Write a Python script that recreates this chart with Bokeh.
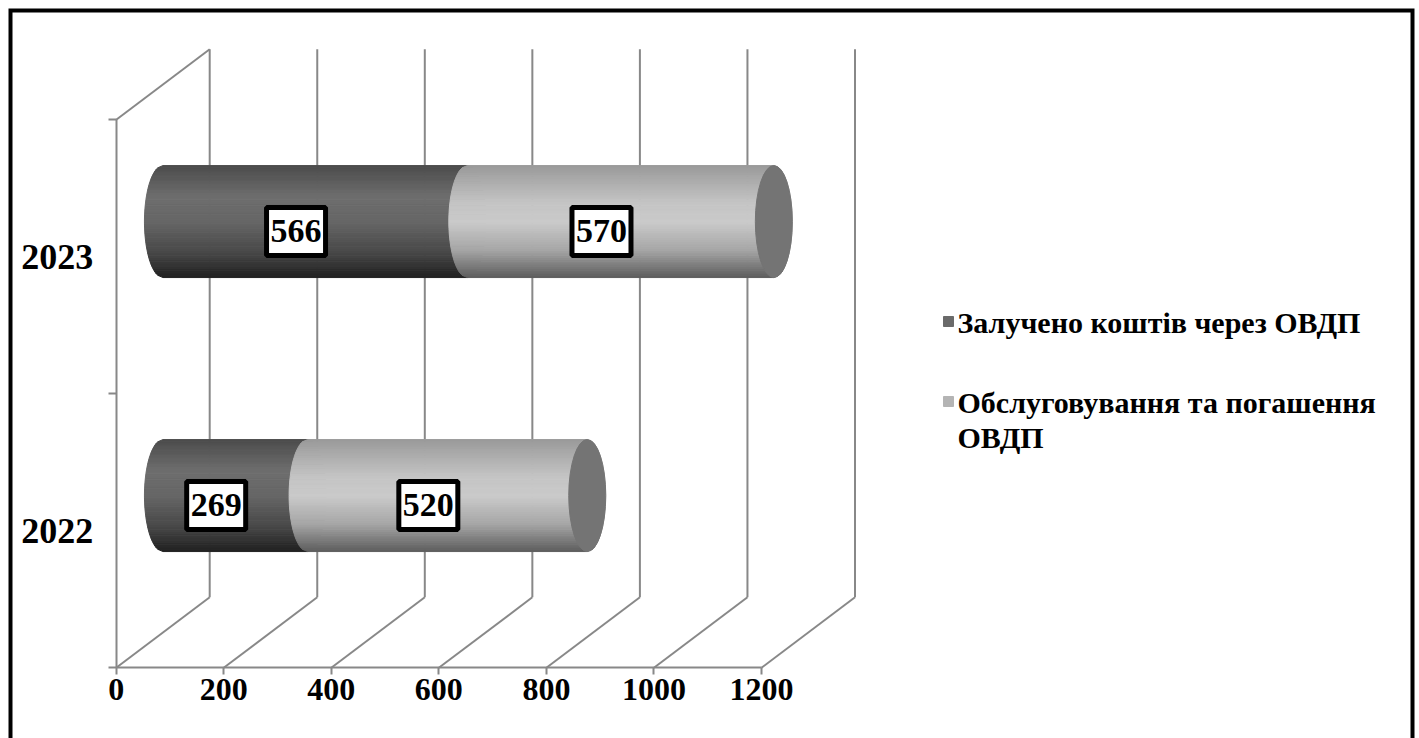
import numpy as np
from bokeh.plotting import figure
from bokeh.models import Range1d, LinearAxis, FixedTicker
from bokeh.core.properties import value
from bokeh.embed import file_html
from bokeh.resources import INLINE

# ---------------- data ----------------
categories = ["2022", "2023"]
raised = [269, 566]          # Залучено коштів через ОВДП
service = [520, 570]         # Обслуговування та погашення ОВДП
series_values = [raised, service]
series_names = ["Залучено коштів через ОВДП", "Обслуговування  та погашення ОВДП"]
legend_lines = [["Залучено коштів через ОВДП"], ["Обслуговування  та погашення", "ОВДП"]]
x_ticks = [0, 200, 400, 600, 800, 1000, 1200]

# ---------------- layout (picture pixels) ----------------
W, H = 1419, 738
PAGE = 0
X0 = 115.7                 # x of value 0 on the front plane
KX = (761.0 - X0) / 1200   # px per value unit
Y0 = 667.3                 # y of the front floor
KY = 274.0                 # px per category band
DX_PX, DY_PX = 93.5, 70.5  # depth offset of the back wall
RX_PX, RY_PX = 18.5, 56.0  # cylinder end ellipse radii
LABEL_DEPTH = 0.36
LABEL_SHIFT_PX = -6

def px_x(px):
    return (px - X0) / KX

def px_y(py):
    return (Y0 - py) / KY

DDX = DX_PX / KX
DDY = DY_PX / KY
RX = RX_PX / KX
RY = RY_PX / KY

FONT = "Liberation Serif"
GRID = "#888888"
GW = 2

p = figure(width=W, height=H, min_border=0, toolbar_location=None,
           output_backend="svg", x_axis_type=None, y_axis_type=None,
           x_range=Range1d(px_x(PAGE), px_x(PAGE + W)),
           y_range=Range1d(px_y(PAGE + H), px_y(PAGE)))
p.outline_line_color = None
p.background_fill_color = "white"
p.border_fill_color = "white"

n_cat = len(categories)

# ---------------- 3D walls ----------------
xs0, ys0, xs1, ys1 = [], [], [], []
for t in x_ticks:
    xs0.append(t + DDX); ys0.append(DDY); xs1.append(t + DDX); ys1.append(n_cat + DDY)
    xs0.append(t); ys0.append(0); xs1.append(t + DDX); ys1.append(DDY)
xs0.append(0); ys0.append(n_cat); xs1.append(DDX); ys1.append(n_cat + DDY)
p.segment(x0=xs0, y0=ys0, x1=xs1, y1=ys1, line_color=GRID, line_width=GW)

# ---------------- axes ----------------
xa = LinearAxis(fixed_location=0, ticker=FixedTicker(ticks=x_ticks, minor_ticks=[]),
                bounds=(0, x_ticks[-1]))
xa.axis_line_color = GRID
xa.axis_line_width = GW
xa.major_tick_line_color = GRID
xa.major_tick_line_width = GW
xa.major_tick_out = 7
xa.major_tick_in = 0
xa.minor_tick_out = 0
xa.major_label_standoff = 4
xa.major_label_text_font = FONT
xa.major_label_text_font_style = "bold"
xa.major_label_text_font_size = "32px"
xa.major_label_text_color = "black"
p.add_layout(xa, "below")

ya = LinearAxis(fixed_location=0,
                ticker=FixedTicker(ticks=list(range(n_cat + 1)), minor_ticks=[]),
                bounds=(0, n_cat))
ya.axis_line_color = GRID
ya.axis_line_width = GW
ya.major_tick_line_color = GRID
ya.major_tick_line_width = GW
ya.major_tick_out = 8
ya.major_tick_in = 0
ya.minor_tick_out = 0
ya.major_label_overrides = {i: "" for i in range(n_cat + 1)}
p.add_layout(ya, "left")

yl = LinearAxis(fixed_location=0,
                ticker=FixedTicker(ticks=[i + 0.5 for i in range(n_cat)], minor_ticks=[]))
yl.axis_line_color = None
yl.major_tick_line_color = None
yl.minor_tick_line_color = None
yl.major_tick_out = 0
yl.major_label_standoff = 23
yl.major_label_overrides = {i + 0.5: c for i, c in enumerate(categories)}
yl.major_label_text_font = FONT
yl.major_label_text_font_style = "bold"
yl.major_label_text_font_size = "36px"
yl.major_label_text_color = "black"
p.add_layout(yl, "left")

# ---------------- cylinders ----------------
SHADE = [
    ([-1.0, -0.55, 0.0, 0.45, 1.0], [0x20, 0x48, 0x66, 0x6e, 0x4c]),
    ([-1.0, -0.5, 0.0, 0.35, 1.0], [0x5c, 0xa6, 0xca, 0xc4, 0x9a]),
]
CAP_COLOR = "#747474"
NB = 50

def grey(v):
    v = int(round(max(0, min(255, v))))
    return "#%02x%02x%02x" % (v, v, v)

tb = np.linspace(-1, 1, NB + 1)
half = np.sqrt(np.clip(1 - tb ** 2, 0, 1)) * RX

starts = [[0] * n_cat]
for s in range(1, len(series_values)):
    starts.append([starts[s - 1][i] + series_values[s - 1][i] for i in range(n_cat)])

for s, vals in enumerate(series_values):
    pxs, pys, cols = [], [], []
    for i in range(n_cat):
        a = starts[s][i]
        b = a + vals[i]
        cy = i + 0.5 + DDY / 2
        ax = a + DDX / 2
        bx = b + DDX / 2
        for j in range(NB):
            t0, t1 = tb[j], tb[j + 1]
            y0, y1 = cy + t0 * RY, cy + t1 * RY
            pxs.append([ax - half[j], bx + half[j], bx + half[j + 1], ax - half[j + 1]])
            pys.append([y0, y0, y1, y1])
            cols.append(grey(np.interp((t0 + t1) / 2, *SHADE[s])))
    p.patches(xs=pxs, ys=pys, fill_color=cols, line_color=cols, line_width=1)

ends = [starts[-1][i] + series_values[-1][i] for i in range(n_cat)]
p.ellipse(x=[e + DDX / 2 for e in ends], y=[i + 0.5 + DDY / 2 for i in range(n_cat)],
          width=2 * RX, height=2 * RY, fill_color=CAP_COLOR, line_color=CAP_COLOR,
          line_width=1)

# ---------------- data labels ----------------
lx, ly, lt = [], [], []
for s, vals in enumerate(series_values):
    for i in range(n_cat):
        lx.append(starts[s][i] + vals[i] / 2 + DDX * LABEL_DEPTH + LABEL_SHIFT_PX / KX)
        ly.append(i + 0.5 + DDY * LABEL_DEPTH)
        lt.append(str(vals[i]))
p.text(x=lx, y=ly, text=lt, text_align="center", text_baseline="middle",
       text_font=value(FONT), text_font_style="bold", text_font_size="34px",
       text_color="black", background_fill_color="white",
       border_line_color="black", border_line_width=5,
       padding=(4, 13))

# ---------------- legend ----------------
LEG_SQ_X = 948
LEG_TX_X = 957
LEG_Y = [322, 402]
LINE_GAP = 35
legend_colors = ["#6a6a6a", "#b4b4b4"]
p.scatter(x=[px_x(LEG_SQ_X)] * 2, y=[px_y(v - 1) for v in LEG_Y], marker="square",
          size=10, fill_color=legend_colors, line_color=legend_colors)
tx, ty, tt = [], [], []
for k, lines in enumerate(legend_lines):
    for m, line in enumerate(lines):
        tx.append(px_x(LEG_TX_X))
        ty.append(px_y(LEG_Y[k] + m * LINE_GAP))
        tt.append(line)
p.text(x=tx, y=ty, text=tt, text_align="left", text_baseline="middle",
       text_font=value(FONT), text_font_style="bold", text_font_size="30px",
       text_color="black")

# ---------------- outer frame ----------------
BL, BT, BR, BB = 10, 10, 1412, 760
p.line(x=[px_x(BL), px_x(BL), px_x(BR), px_x(BR)],
       y=[px_y(BB), px_y(BT), px_y(BT), px_y(BB)],
       line_color="black", line_width=4, line_join="miter")

open("out.html", "w").write(file_html(p, INLINE))
